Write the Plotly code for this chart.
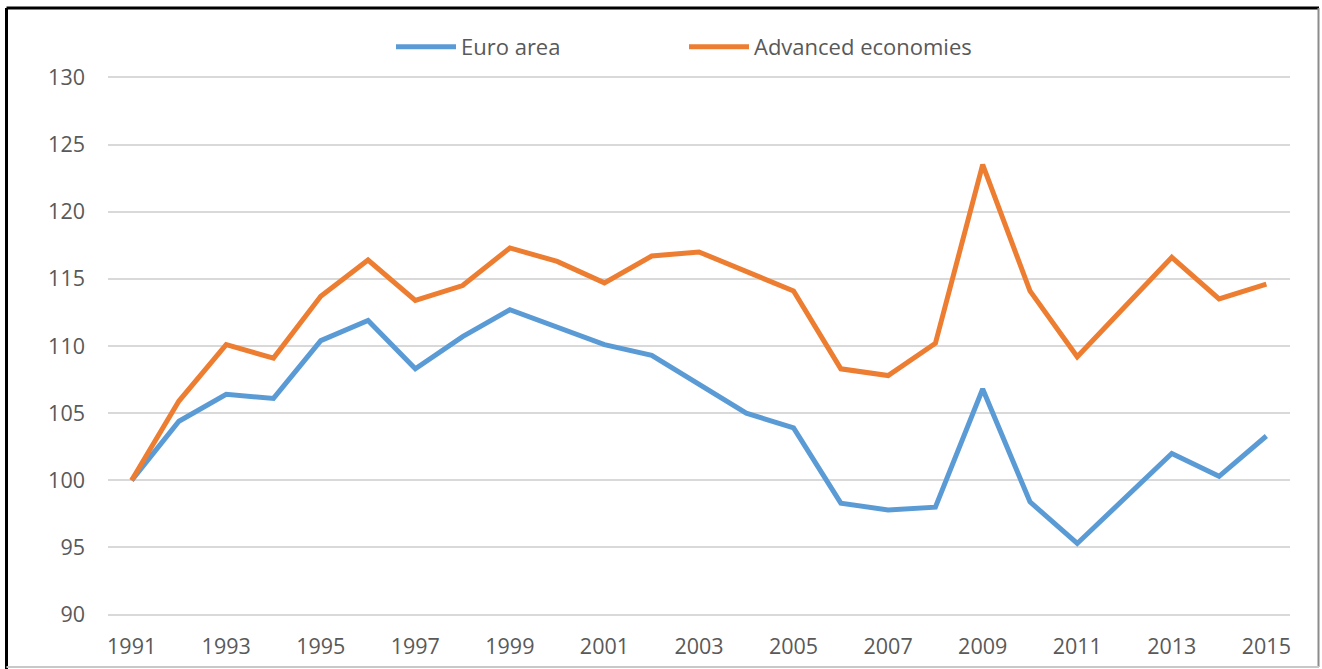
import plotly.graph_objects as go

years = list(range(1991, 2016))
euro_area = [100.0, 104.4, 106.4, 106.1, 110.4, 111.9, 108.3, 110.7, 112.7, 111.4,
             110.1, 109.3, 107.1, 105.0, 103.9, 98.3, 97.8, 98.0, 106.8, 98.4,
             95.3, 98.6, 102.0, 100.3, 103.3]
advanced = [100.0, 105.9, 110.1, 109.1, 113.7, 116.4, 113.4, 114.5, 117.3, 116.3,
            114.7, 116.7, 117.0, 115.5, 114.1, 108.3, 107.8, 110.2, 123.5, 114.1,
            109.2, 112.9, 116.6, 113.5, 114.6]
x_ticks = list(range(1991, 2016, 2))
y_ticks = list(range(90, 131, 5))

FONT = "Open Sans"
fig = go.Figure()
fig.add_trace(go.Scatter(x=years, y=euro_area, mode="lines", name="Euro area",
                         line=dict(color="#5B9BD5", width=5)))
fig.add_trace(go.Scatter(x=years, y=advanced, mode="lines", name="Advanced economies",
                         line=dict(color="#ED7D31", width=5)))

L, R, T, B = 108, 32, 76, 53
W, H = 1322, 669
pw, ph = W - L - R, H - T - B

def px(x):
    return (x - L) / pw

def py(y):
    return (H - B - y) / ph

shapes = [
    dict(type="line", xref="paper", yref="paper", x0=px(6.5), x1=px(1319), y0=py(8), y1=py(8),
         line=dict(color="#000000", width=3)),
    dict(type="line", xref="paper", yref="paper", x0=px(6.5), x1=px(6.5), y0=py(8), y1=py(669),
         line=dict(color="#000000", width=3)),
    dict(type="line", xref="paper", yref="paper", x0=px(1318.5), x1=px(1318.5), y0=py(8), y1=py(667),
         line=dict(color="#8c8c8c", width=2)),
    dict(type="line", xref="paper", yref="paper", x0=px(6.5), x1=px(1319), y0=py(667), y1=py(667),
         line=dict(color="#c8c8c8", width=2)),
]

fig.update_layout(
    width=W, height=H,
    margin=dict(l=L, r=R, t=T, b=B, pad=0, autoexpand=False),
    paper_bgcolor="white", plot_bgcolor="white",
    font=dict(family=FONT, size=21.5, color="#595959"),
    showlegend=True,
    legend=dict(orientation="h", x=px(391), xanchor="left", y=py(47), yanchor="middle",
                font=dict(family=FONT, size=22, color="#595959"),
                itemwidth=60, entrywidth=218, bgcolor="rgba(0,0,0,0)"),
    xaxis=dict(range=[1990.5, 2015.5], tickmode="array", tickvals=x_ticks,
               ticktext=[str(v) for v in x_ticks], showgrid=False, zeroline=False,
               showline=False, ticks="", ticklabelstandoff=15, automargin=False),
    yaxis=dict(range=[89.9, 130.1], tickmode="array", tickvals=y_ticks,
               ticktext=[str(v) for v in y_ticks], showgrid=True, gridcolor="#d9d9d9",
               gridwidth=1.5, zeroline=False, showline=False, ticks="",
               ticklabelstandoff=22, automargin=False),
    shapes=shapes,
)
fig.write_html("out.html", config={"displayModeBar": False},
               post_script="document.body.style.margin='0';")
